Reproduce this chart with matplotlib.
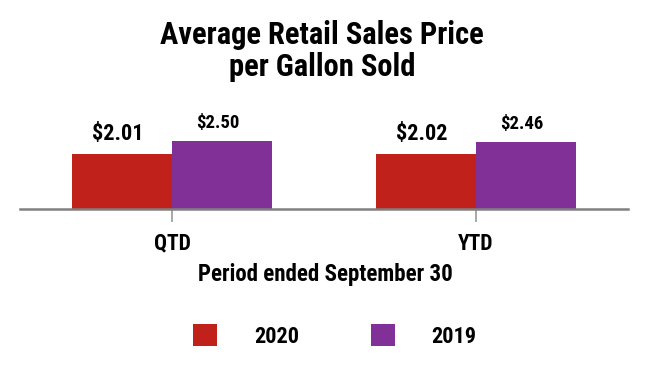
import matplotlib
matplotlib.use("Agg")
import matplotlib.pyplot as plt
from matplotlib.patches import Patch
import numpy as np

categories = ["QTD", "YTD"]
series_names = ["2020", "2019"]
values_2020 = [2.01, 2.02]
values_2019 = [2.50, 2.46]
labels_2020 = ["$2.01", "$2.02"]
labels_2019 = ["$2.50", "$2.46"]
colors = ["#C0211A", "#803096"]

FONTS = ['Liberation Sans Narrow', 'Arial Narrow', 'Roboto Condensed', 'Archivo Narrow', 'Liberation Sans', 'DejaVu Sans']
plt.rcParams['font.family'] = FONTS
plt.rcParams['font.weight'] = 'bold'

fig = plt.figure(figsize=(6.48, 3.80), dpi=100)
W, H = 648, 380
ymax = 3.0
ax_h = ymax * 27.2
ax = fig.add_axes([20 / W, (H - 209) / H, 608 / W, ax_h / H])
ax.set_xlim(-0.5, 1.5)
ax.set_ylim(0, ymax)

x = np.arange(len(categories))
bw = 100 / 304
ax.bar(x - bw / 2, values_2020, width=bw, color=colors[0], zorder=2)
ax.bar(x + bw / 2, values_2019, width=bw, color=colors[1], zorder=2)

for i in range(len(categories)):
    ax.annotate(labels_2020[i], (x[i] - bw / 2 - 0.04 * bw, values_2020[i]),
                xytext=(0, 10), textcoords='offset points', ha='center', va='baseline',
                fontsize=16, fontweight='bold', annotation_clip=False)
    ax.annotate(labels_2019[i], (x[i] + bw / 2 - 0.04 * bw, values_2019[i]),
                xytext=(0, 9.4), textcoords='offset points', ha='center', va='baseline',
                fontsize=13.5, fontweight='bold', annotation_clip=False)

for s in ['top', 'right', 'left']:
    ax.spines[s].set_visible(False)
ax.spines['bottom'].set_color('#808080')
ax.spines['bottom'].set_linewidth(1.8)
ax.set_yticks([])
ax.set_xticks(x)
ax.set_xticklabels(categories, fontsize=15.5, fontweight='bold')
ax.tick_params(axis='x', length=9, width=1.2, color='#9a9a9a', pad=8)
ax.patch.set_visible(False)

fig.text(322 / W, 1 - 51 / H, "Average Retail Sales Price\nper Gallon Sold",
         ha='center', va='center', fontsize=22, fontweight='bold', linespacing=1.1)
fig.text(325 / W, 1 - 275 / H, "Period ended September 30",
         ha='center', va='center', fontsize=16.5, fontweight='bold')

handles = [Patch(facecolor=colors[0]), Patch(facecolor=colors[1])]
fig.legend(handles, series_names, loc='center', bbox_to_anchor=(335 / W, 1 - 336 / H),
           ncol=2, frameon=False, handlelength=1.08, handleheight=1.08,
           handletextpad=1.66, columnspacing=3.22, prop={'weight': 'bold', 'size': 16})

fig.savefig("out.png", dpi=100)
